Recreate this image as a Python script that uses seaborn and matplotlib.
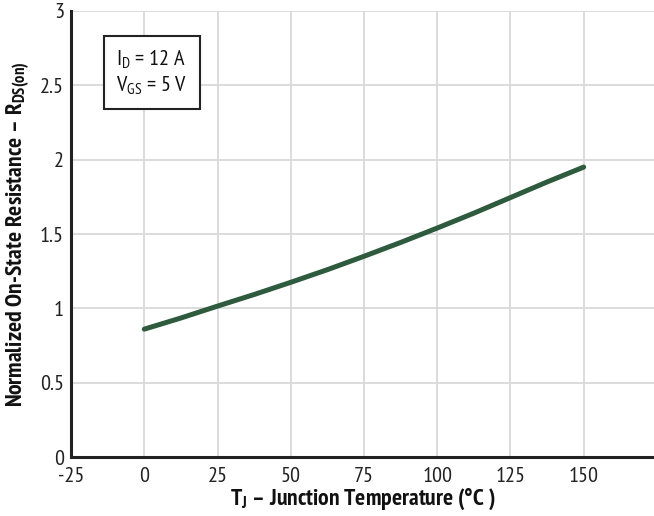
import matplotlib
matplotlib.use("Agg")
import matplotlib.pyplot as plt
import seaborn as sns
import pandas as pd

temps = [0, 12.5, 25, 37.5, 50, 62.5, 75, 87.5, 100, 112.5, 125, 137.5, 150]
resist = [0.86, 0.935, 1.015, 1.093, 1.175, 1.26, 1.35, 1.443, 1.54, 1.64, 1.745, 1.85, 1.95]
x_ticks = [-25, 0, 25, 50, 75, 100, 125, 150]
x_labels = ["-25", "0", "25", "50", "75", "100", "125", "150"]
y_ticks = [0, 0.5, 1, 1.5, 2, 2.5, 3]
y_labels = ["0", "0.5", "1", "1.5", "2", "2.5", "3"]

sns.set_style("white")
FONT = "PT Sans Narrow"
plt.rcParams["font.family"] = [FONT, "DejaVu Sans"]
plt.rcParams["mathtext.fontset"] = "custom"
plt.rcParams["mathtext.rm"] = FONT
plt.rcParams["mathtext.bf"] = FONT + ":bold"
plt.rcParams["mathtext.it"] = FONT
plt.rcParams["axes.unicode_minus"] = False

df = pd.DataFrame({"T": temps, "R": resist})

fig = plt.figure(figsize=(6.54, 5.16), dpi=100)
ax = fig.add_axes([0.1086, 0.1143, 0.8914, 0.8644])
sns.lineplot(data=df, x="T", y="R", ax=ax, color="#2e5a3e", linewidth=3.6, zorder=3)

ax.set_xlim(-25, 174)
ax.set_ylim(0, 3)
ax.set_xticks(x_ticks)
ax.set_xticklabels(x_labels)
ax.set_yticks(y_ticks)
ax.set_yticklabels(y_labels)
ax.grid(True, color="#d9d9d9", linewidth=1.3)
ax.tick_params(length=0, labelsize=16, colors="#222222")
ax.tick_params(axis="x", pad=7)
ax.tick_params(axis="y", pad=5)
for s in ["top", "right"]:
    ax.spines[s].set_visible(False)
for s in ["left", "bottom"]:
    ax.spines[s].set_color("#222222")
    ax.spines[s].set_linewidth(2.2)

ax.set_xlabel(r"T$_\mathbf{J}$ – Junction Temperature (°C )", fontsize=17,
              fontweight="bold", labelpad=1, color="#111111")
ax.set_ylabel(r"Normalized On-State Resistance – R$_\mathbf{DS(on)}$", fontsize=17,
              fontweight="bold", labelpad=6, color="#111111")

ax.text(-9.5, 2.585, "I$_\\mathrm{D}$ = 12 A\nV$_\\mathrm{GS}$ = 5 V", fontsize=16,
        va="center", ha="left", linespacing=1.25, zorder=5, color="#111111",
        bbox=dict(boxstyle="square,pad=0.55", facecolor="white", edgecolor="#222222",
                  linewidth=1.5))

fig.savefig("out.png", dpi=100)
